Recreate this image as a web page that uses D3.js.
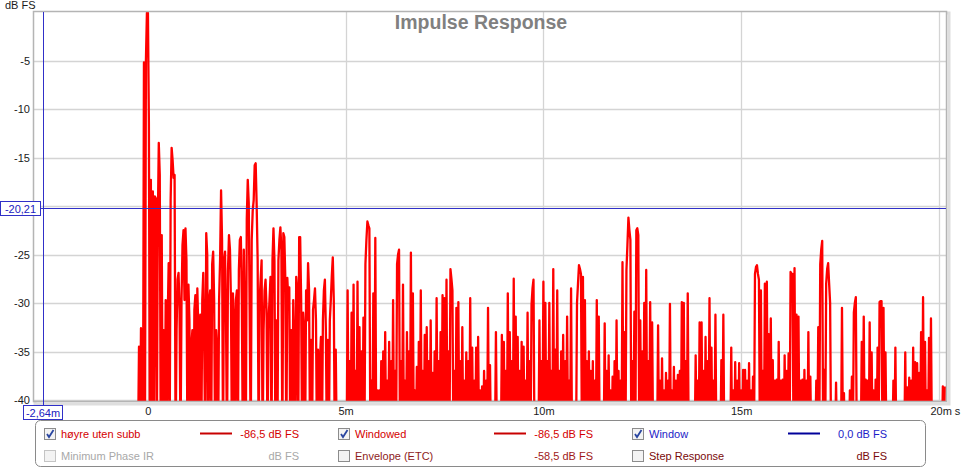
<!DOCTYPE html>
<html>
<head>
<meta charset="utf-8">
<script src="https://cdn.jsdelivr.net/npm/d3@7"></script>
<style>
  html, body { margin: 0; padding: 0; background: #ffffff; }
  svg { display: block; font-family: "Liberation Sans", Arial, sans-serif; }
</style>
</head>
<body>
<svg id="chart" width="963" height="471"></svg>
<script>
// ---------- data ----------
const title = "Impulse Response";
const yUnit = "dB FS";
const yTicks = [-5, -10, -15, -20, -25, -30, -35, -40];
const yTickLabels = ["-5", "-10", "-15", "", "-25", "-30", "-35", "-40"];
const xTicks = [0, 5, 10, 15, 20];
const xTickLabels = ["0", "5m", "10m", "15m", "20m s"];
const xDomain = [-2.88, 20.18];   // ms
const yDomain = [-40, 0];         // dB
const cursorTimeMs = -2.64;
const cursorLevelDb = -20.21;
const cursorTimeLabel = "-2,64m";
const cursorLevelLabel = "-20,21";

// impulse response magnitude (dB FS), sampled every 0.025 ms starting at -0.25 ms
const sampleStartMs = -0.25;
const sampleStepMs = 0.025;
const levels = [
  -45,-34.5,-45,-32.6,-34,-45,-5.2,-45,-5,-0.1,
  -0.1,-11.4,-45,-17.3,-45,-18.5,-45,-19,-19.2,-45,
  -22,-13.5,-16.8,-45,-23,-45,-32.8,-45,-29.7,-45,
  -31.8,-25.9,-45,-19.4,-14.0,-15.3,-17.1,-16.8,-45,-32.8,
  -27.6,-26.9,-30.7,-45,-29.7,-24,-22.5,-29.7,-22.3,-25.6,
  -45,-28.1,-31.8,-45,-34.3,-32.8,-45,-30.7,-29.2,-45,
  -28.5,-32.8,-45,-31.2,-45,-29.7,-26.9,-34.8,-45,-22.8,
  -25,-45,-29.7,-28.7,-45,-26,-24.7,-29.7,-45,-32.8,
  -34.8,-45,-29.7,-25.6,-18.4,-23.5,-45,-25.6,-24.7,-31.8,
  -45,-26.6,-23.0,-24.5,-29.7,-45,-29,-31.8,-45,-29.7,
  -28.7,-45,-26.6,-23.5,-23.2,-29.7,-45,-24.5,-32.8,-45,
  -21.4,-17.3,-19.7,-31.8,-45,-23.5,-20.5,-19.4,-15.8,-15.6,
  -19.9,-25.6,-45,-29.7,-27.6,-25.6,-45,-32.8,-28.7,-27.6,
  -30.7,-45,-31.8,-29.7,-27.3,-45,-25.6,-22.3,-25.6,-45,
  -31.8,-45,-25.6,-23.5,-22.2,-24.5,-45,-22.8,-23.2,-27.6,
  -45,-27.4,-29.7,-28.4,-45,-32.8,-45,-29.7,-34.8,-45,
  -27.3,-28.7,-45,-23.2,-23.2,-29.7,-45,-31,-32.8,-45,
  -28.7,-31.8,-25.9,-28.7,-45,-33.8,-45,-30.7,-29.7,-28.5,
  -31.8,-45,-34.8,-45,-35.9,-33.5,-45,-31.8,-28.7,-27.6,
  -32.8,-45,-33.8,-45,-31.8,-29.7,-27.2,-25.3,-29.7,-45,
  -34.8,-45,-45,-45,-45,-45,-45,-45,-45,-45,
  -45,-45,
  -28.7,-45, -36,-45, -31,-45, -28.1,-45,
  -37,-45, -27.8,-45, -32.5,-45, -35,-45, -31.5,-45, -26,-23.5, -21.6,-22, -22.3,-45, -38,-45, -29,-45,
  -23.3,-45, -39,-45, -39,-45, -36,-45, -35,-45, -33,-45, -38,-45, -34,-45, -36,-45, -29.7,-45,
  -37,-45, -26,-25, -24.5,-45, -36,-45, -28.1,-45, -38,-45, -33,-45, -35,-45, -24.8,-45, -29,-45,
  -39,-45, -36.6,-45, -34,-45, -28.7,-45, -37,-45, -33.3,-45, -32.5,-45, -36,-45, -31.8,-45, -37.2,-45,
  -35,-45, -29.5,-45, -36,-45, -33,-45, -29.2,-45, -29.5,-45, -27.6,-45, -35,-45, -26.5,-27.5, -28.7,-45,
  -37,-45, -30.5,-45, -29.9,-45, -36,-45, -32.5,-45, -38,-45, -35.1,-45, -36,-45, -29.5,-45, -34.6,-45,
  -38,-45, -34.6,-45, -33.5,-45, -39,-45, -38.6,-45, -37,-45, -38,-45, -30.5,-45, -36.4,-45, -45,-45,
  -45,-45, -33,-45, -45,-45, -45,-45, -33.3,-45, -34,-45, -37,-45, -29,-45, -33,-45, -36,-45,
  -27.5,-45, -31.4,-45, -33.5,-45, -37,-45, -34,-45, -34.5,-45, -38,-45, -31,-45, -36,-45, -30.2,-28.5,
  -27.6,-45, -45,-45, -45,-45, -31.8,-45, -36,-45, -27.8,-45, -30,-45, -36,-45, -30,-45, -37,-45,
  -26.5,-45, -34.8,-45, -28.7,-45, -37,-45, -35,-45, -33.3,-45, -36,-45, -31.4,-45, -38,-45, -28.5,-45,
  -45,-45, -45,-45, -30,-28, -26.1,-26.5, -27,-45, -27.3,-45, -29.7,-45, -36,-45, -35,-45, -37,-45,
  -36,-45, -38,-45, -29.7,-45, -31.4,-45, -45,-45, -45,-45, -32.1,-45, -37,-45, -35.4,-45, -39,-45,
  -37.6,-45, -36,-45, -31.8,-45, -37,-45, -38,-45, -25.8,-45, -33,-45, -26.6,-24, -21.2,-22.5, -23.5,-45,
  -36,-45, -30.9,-45, -22.5,-22.3, -23,-45, -31.8,-45, -35,-45, -30,-45, -26.6,-45, -36,-45, -29.9,-45,
  -32,-45, -45,-45, -45,-45, -32.3,-45, -38,-45, -35.7,-45, -39,-45, -37.2,-45, -38,-45, -30.1,-45,
  -39,-45, -36.6,-45, -38,-45, -37.4,-45, -37,-45, -29.9,-45, -30,-45, -36,-45, -29,-45, -45,-45,
  -45,-45, -45,-45, -35.4,-45, -38,-45, -32,-45, -32,-45, -37,-45, -33.5,-45, -36,-45, -29.5,-45,
  -34.6,-45, -38,-45, -31.2,-45, -45,-45, -45,-45, -35.9,-45, -31.2,-45, -45,-45, -45,-45, -45,-45,
  -34.6,-45, -39,-45, -36.1,-45, -38,-45, -36.2,-45, -39,-45, -36.9,-45, -36.9,-45, -38,-45, -36.2,-45,
  -39,-45, -37.6,-45, -27,-26.3, -26.1,-27, -27.6,-45, -28.7,-45, -37,-45, -28,-45, -27.8,-45, -33.2,-45,
  -31.6,-45, -35.9,-45, -38,-45, -37.9,-45, -34,-45, -38,-45, -37.9,-45, -35.4,-45, -37,-45, -35.2,-45,
  -26.8,-27, -27,-45, -26.4,-45, -31.2,-45, -31.4,-45, -38,-45, -37.9,-45, -36.9,-45, -38,-45, -33,-45,
  -37.6,-45, -45,-45, -45,-45, -38,-45, -32.5,-45, -26,-24.5, -23.6,-45, -36.9,-45, -28,-26.5, -25.9,-28,
  -30,-45, -45,-45, -45,-45, -38.2,-45, -45,-45, -45,-45, -30.5,-45, -39.3,-45, -45,-45, -45,-45,
  -39,-45, -37.6,-45, -31,-30, -29.4,-45, -45,-45, -45,-45, -34,-45, -31.4,-45, -37.9,-45, -38,-45,
  -32,-45, -35.1,-45, -39,-45, -37.9,-45, -34.6,-45, -29.9,-29.8, -29.8,-45, -30.5,-45, -35.1,-45, -45,-45,
  -45,-45, -45,-45, -38,-45, -34.6,-45, -45,-45, -45,-45, -45,-45, -45,-45, -35.1,-45, -38.7,-45,
  -37.7,-45, -38,-45, -34.6,-45, -36.1,-45, -36.2,-45, -37.2,-45, -33,-45, -29.4,-45, -34,-45, -39,-45,
  -33.6,-45, -31.6,-45, -45,-45, -45,-45, -45,-45, -45,-45, -45,-45, -38.6,-45, -38.6
];

// legend
const legendLabels = ["høyre uten subb", "Minimum Phase IR", "Windowed", "Envelope (ETC)", "Window", "Step Response"];
const legendValues = ["-86,5 dB FS", "dB FS", "-86,5 dB FS", "-58,5 dB FS", "0,0 dB FS", "dB FS"];
const legendChecked = [true, false, true, false, true, false];
const legendHasLine = [true, false, true, false, true, false];
const legendEnabled = [true, false, true, true, true, true];
const legendTextColors = ["#d40000", "#a8a8a8", "#d40000", "#8e1c1c", "#1c1cc8", "#7a0a0a"];
const legendLineColors = ["#c80000", null, "#c80000", null, "#00009a", null];
const legendValueColors = ["#d40000", "#a8a8a8", "#d40000", "#a01818", "#1c1cc8", "#7a0a0a"];

// ---------- layout ----------
const plot = { left: 34, top: 12, right: 946, bottom: 401 };
const svg = d3.select("#chart");

const x = d3.scaleLinear().domain(xDomain).range([plot.left, plot.right]);
const y = d3.scaleLinear().domain(yDomain).range([400, plot.top]);

// frame shadow
svg.append("rect")
  .attr("x", plot.left + 1).attr("y", plot.top + 1)
  .attr("width", plot.right - plot.left + 2).attr("height", plot.bottom - plot.top + 2)
  .attr("fill", "none").attr("stroke", "#dedede").attr("stroke-width", 3);

svg.append("rect")
  .attr("x", plot.left).attr("y", plot.top)
  .attr("width", plot.right - plot.left).attr("height", plot.bottom - plot.top)
  .attr("fill", "#ffffff");

// grid
const grid = svg.append("g");
grid.selectAll("line.h").data(yTicks).enter().append("line")
  .attr("x1", plot.left).attr("x2", plot.right)
  .attr("y1", d => Math.round(y(d)) + 0.5).attr("y2", d => Math.round(y(d)) + 0.5)
  .attr("stroke", "#d4d4d4").attr("stroke-width", 1.3);
grid.selectAll("line.v").data(xTicks).enter().append("line")
  .attr("y1", plot.top).attr("y2", plot.bottom)
  .attr("x1", d => Math.round(x(d)) + 0.5).attr("x2", d => Math.round(x(d)) + 0.5)
  .attr("stroke", "#d4d4d4").attr("stroke-width", 1.3);

// title
svg.append("text")
  .attr("x", 481).attr("y", 29)
  .attr("text-anchor", "middle")
  .attr("font-size", "19.5px").attr("font-weight", "bold")
  .attr("fill", "#808080")
  .text(title);

// clip
svg.append("clipPath").attr("id", "clip")
  .append("rect").attr("x", plot.left).attr("y", plot.top)
  .attr("width", plot.right - plot.left).attr("height", plot.bottom - plot.top);

// trace
const line = d3.line()
  .x((d, i) => x(sampleStartMs + i * sampleStepMs))
  .y(d => y(d));
svg.append("path")
  .datum(levels)
  .attr("clip-path", "url(#clip)")
  .attr("d", line)
  .attr("fill", "none")
  .attr("stroke", "#ff0000")
  .attr("stroke-width", 2.3)
  .attr("stroke-linejoin", "round");

// frame border
svg.append("rect")
  .attr("x", plot.left - 0.5).attr("y", plot.top - 0.5)
  .attr("width", plot.right - plot.left + 1).attr("height", plot.bottom - plot.top + 1)
  .attr("fill", "none").attr("stroke", "#b4b4b4").attr("stroke-width", 1.5);

// axes (labels)
const yAxis = d3.axisLeft(y).tickValues(yTicks).tickSize(0).tickPadding(0)
  .tickFormat((d, i) => yTickLabels[i]);
const gy = svg.append("g").attr("transform", `translate(${plot.left - 4},0)`).call(yAxis);
gy.select(".domain").remove();
gy.selectAll("text").attr("font-size", "11px").attr("fill", "#1a1a1a")
  .attr("font-family", "'Liberation Sans', Arial, sans-serif");

const xAxis = d3.axisBottom(x).tickValues(xTicks).tickSize(0).tickPadding(0)
  .tickFormat((d, i) => xTickLabels[i]);
const gx = svg.append("g").attr("transform", `translate(0,${plot.bottom + 6})`).call(xAxis);
gx.select(".domain").remove();
gx.selectAll("text").attr("font-size", "11px").attr("fill", "#1a1a1a")
  .attr("font-family", "'Liberation Sans', Arial, sans-serif");
gx.selectAll(".tick").filter((d, i) => i === xTicks.length - 1)
  .select("text").attr("dx", "6px");

svg.append("text").attr("x", 5).attr("y", 9)
  .attr("font-size", "11px").attr("fill", "#1a1a1a").text(yUnit);

// cursors
const cy = Math.round(y(cursorLevelDb)) + 0.5;
const cx = Math.round(x(cursorTimeMs)) + 0.5;
svg.append("line").attr("x1", 40).attr("x2", plot.right).attr("y1", cy).attr("y2", cy)
  .attr("stroke", "#3030c8").attr("stroke-width", 1);
svg.append("line").attr("x1", cx).attr("x2", cx).attr("y1", plot.top).attr("y2", 405)
  .attr("stroke", "#3030c8").attr("stroke-width", 1);

svg.append("rect").attr("x", 0.5).attr("y", cy - 7).attr("width", 40).attr("height", 14)
  .attr("fill", "#ffffff").attr("stroke", "#3030c8");
svg.append("text").attr("x", 20.5).attr("y", cy + 4).attr("text-anchor", "middle")
  .attr("font-size", "11px").attr("fill", "#2020c0").text(cursorLevelLabel);

svg.append("rect").attr("x", 23.5).attr("y", 405.5).attr("width", 39).attr("height", 14)
  .attr("fill", "#ffffff").attr("stroke", "#3030c8");
svg.append("text").attr("x", 43).attr("y", 416.5).attr("text-anchor", "middle")
  .attr("font-size", "11px").attr("fill", "#2020c0").text(cursorTimeLabel);

// legend box
svg.append("rect").attr("x", 35.5).attr("y", 420.5).attr("width", 890).attr("height", 46)
  .attr("rx", 5).attr("fill", "#ffffff").attr("stroke", "#8a8a8a");

const colX = [44, 338, 632];
const rowY = [428, 450];
legendLabels.forEach((lab, k) => {
  const col = Math.floor(k / 2), row = k % 2;
  const bx = colX[col], by = rowY[row];
  const g = svg.append("g");
  g.append("rect").attr("x", bx + 0.5).attr("y", by + 0.5).attr("width", 11).attr("height", 11)
    .attr("fill", "#f3f3f3").attr("stroke", legendEnabled[k] ? "#8c8c8c" : "#c4c4c4");
  if (legendChecked[k]) {
    g.append("path")
      .attr("d", `M${bx + 3},${by + 6} L${bx + 5},${by + 9} L${bx + 9.5},${by + 2}`)
      .attr("fill", "none").attr("stroke", "#2a46a0").attr("stroke-width", 1.8);
  }
  g.append("text").attr("x", bx + 17).attr("y", by + 10)
    .attr("font-size", "11px").attr("fill", legendTextColors[k]).text(lab);
  if (legendHasLine[k]) {
    g.append("line").attr("x1", bx + 156).attr("x2", bx + 188)
      .attr("y1", by + 5.5).attr("y2", by + 5.5)
      .attr("stroke", legendLineColors[k]).attr("stroke-width", 2);
  }
  g.append("text").attr("x", bx + 255).attr("y", by + 10).attr("text-anchor", "end")
    .attr("font-size", "11px").attr("fill", legendValueColors[k]).text(legendValues[k]);
});
</script>
</body>
</html>
